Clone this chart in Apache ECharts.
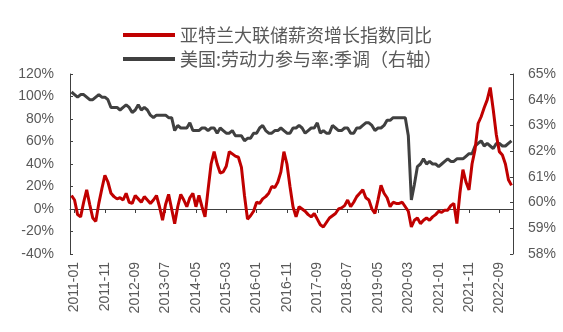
<!DOCTYPE html>
<html>
<head>
<meta charset="utf-8">
<script src="https://cdn.jsdelivr.net/npm/echarts@6/dist/echarts.min.js"></script>
<style>
  html, body { margin: 0; padding: 0; background: #fff; }
  #chart { width: 563px; height: 332px; }
</style>
</head>
<body>
<div id="chart"></div>
<script>
// Monthly categories, 2010-12 through 2023-01
const months = [];
for (let y = 2010; y <= 2023; y++) {
  for (let m = 1; m <= 12; m++) {
    if (y === 2010 && m < 12) continue;
    if (y === 2023 && m > 1) continue;
    months.push(y + '-' + String(m).padStart(2, '0'));
  }
}

// Atlanta Fed wage growth tracker, YoY (%), left axis
const wageGrowth = [
  12,
  8, -5, -7, 6, 17, 4, -8, -11, 5, 18, 30, 24,
  14, 11, 9, 10, 8, 14, 6, 5, 12, 9, 6, 11,
  8, 5, 8, 12, 2, -10, 4, 13, 0, -13, 2, 13,
  8, 2, 10, 14, 2, 12, 2, -7, 17, 40, 51, 40,
  32, 33, 38, 51, 49, 47, 46, 37, 12, -9, -6, -2,
  6, 5, 9, 11, 14, 20, 19, 24, 33, 51, 40, 20,
  2, -7, 2, 0, -2, -5, -7, -4, -9, -14, -16, -12,
  -8, -6, -4, 0, 1, 3, 8, 2, 6, 11, 14, 17,
  10, 8, 0, -4, 8, 21, 14, 10, 2, 6, 5, 5,
  6, 2, -2, -16, -10, -8, -13, -10, -8, -10, -7, -5,
  -2, -3, -1, -1, 3, 5, -13, 14, 35, 24, 17, 40,
  53, 76, 82, 90, 97, 108, 88, 66, 51, 48, 40, 26,
  21
];

// US labor force participation rate, seasonally adjusted (%), right axis
const participation = [
  64.3,
  64.2, 64.1, 64.2, 64.2, 64.1, 64.0, 64.0, 64.1, 64.2, 64.1, 64.1, 64.0,
  63.7, 63.7, 63.7, 63.6, 63.7, 63.8, 63.7, 63.5, 63.6, 63.8, 63.6, 63.7,
  63.6, 63.4, 63.3, 63.4, 63.4, 63.4, 63.4, 63.3, 63.3, 62.8, 63.0, 62.9,
  62.9, 62.9, 63.1, 62.8, 62.8, 62.8, 62.9, 62.9, 62.8, 62.9, 62.9, 62.7,
  62.9, 62.8, 62.7, 62.7, 62.8, 62.6, 62.6, 62.6, 62.4, 62.5, 62.5, 62.7,
  62.7, 62.9, 63.0, 62.8, 62.7, 62.7, 62.8, 62.8, 62.9, 62.8, 62.7, 62.7,
  62.9, 62.9, 63.0, 62.9, 62.7, 62.8, 62.9, 62.9, 63.1, 62.7, 62.8, 62.7,
  62.7, 63.0, 62.9, 62.8, 62.8, 62.9, 62.9, 62.7, 62.7, 62.9, 62.9, 63.0,
  63.1, 63.1, 63.0, 62.8, 62.9, 62.9, 63.0, 63.2, 63.2, 63.3, 63.3, 63.3,
  63.3, 63.3, 62.6, 60.1, 60.7, 61.4, 61.5, 61.7, 61.5, 61.6, 61.5, 61.5,
  61.4, 61.5, 61.6, 61.7, 61.6, 61.6, 61.7, 61.7, 61.7, 61.8, 61.9, 61.9,
  62.2, 62.3, 62.4, 62.2, 62.3, 62.2, 62.1, 62.3, 62.3, 62.2, 62.2, 62.3,
  62.4
];

const seriesNames = ['亚特兰大联储薪资增长指数同比', '美国:劳动力参与率:季调（右轴）'];

// Labels every 10 months starting at 2011-01 (index 1)
const showEvery10 = (idx) => (idx - 1) % 10 === 0;

const axisColor = '#404040';
const textColor = '#595959';
const axisFont = 'Liberation Sans, Arial, sans-serif';

const chart = echarts.init(document.getElementById('chart'), null, { renderer: 'canvas' });
chart.setOption({
  animation: false,
  backgroundColor: '#ffffff',
  legend: {
    orient: 'vertical',
    left: 118,
    top: 21,
    itemWidth: 52,
    itemHeight: 4,
    itemGap: 6,
    icon: 'rect',
    textStyle: { fontSize: 18, color: textColor, fontFamily: 'Noto Sans CJK SC' },
    data: seriesNames
  },
  grid: { left: 70, right: 50, top: 74, bottom: 78 },
  xAxis: [
    {
      type: 'category',
      data: months,
      boundaryGap: true,
      position: 'bottom',
      axisLine: { show: false, onZero: false },
      axisTick: { show: false },
      axisLabel: {
        rotate: 90,
        interval: showEvery10,
        margin: 8,
        fontSize: 14,
        color: textColor,
        fontFamily: axisFont
      },
      splitLine: { show: false }
    },
    {
      type: 'category',
      data: months,
      boundaryGap: true,
      position: 'bottom',
      axisLine: { show: true, onZero: true, onZeroAxisIndex: 0, lineStyle: { color: axisColor, width: 1 } },
      axisTick: { show: true, alignWithLabel: true, interval: showEvery10, length: 4, lineStyle: { color: axisColor } },
      axisLabel: { show: false },
      splitLine: { show: false }
    }
  ],
  yAxis: [
    {
      type: 'value',
      min: -40,
      max: 120,
      interval: 20,
      position: 'left',
      axisLine: { show: true, lineStyle: { color: axisColor, width: 1 } },
      axisTick: { show: true, inside: true, length: 3, lineStyle: { color: axisColor } },
      axisLabel: { formatter: '{value}%', margin: 16, fontSize: 14, color: textColor, fontFamily: axisFont },
      splitLine: { show: false }
    },
    {
      type: 'value',
      min: 58,
      max: 65,
      interval: 1,
      position: 'right',
      axisLine: { show: true, lineStyle: { color: axisColor, width: 1 } },
      axisTick: { show: true, inside: true, length: 3, lineStyle: { color: axisColor } },
      axisLabel: { formatter: '{value}%', margin: 15, fontSize: 14, color: textColor, fontFamily: axisFont },
      splitLine: { show: false }
    }
  ],
  series: [
    {
      name: seriesNames[0],
      type: 'line',
      xAxisIndex: 0,
      yAxisIndex: 0,
      data: wageGrowth,
      showSymbol: false,
      symbol: 'none',
      z: 3,
      itemStyle: { color: '#C00000' },
      lineStyle: { color: '#C00000', width: 3 }
    },
    {
      name: seriesNames[1],
      type: 'line',
      xAxisIndex: 0,
      yAxisIndex: 1,
      data: participation,
      showSymbol: false,
      symbol: 'none',
      z: 2,
      itemStyle: { color: '#404040' },
      lineStyle: { color: '#404040', width: 3 }
    }
  ]
});
</script>
</body>
</html>
